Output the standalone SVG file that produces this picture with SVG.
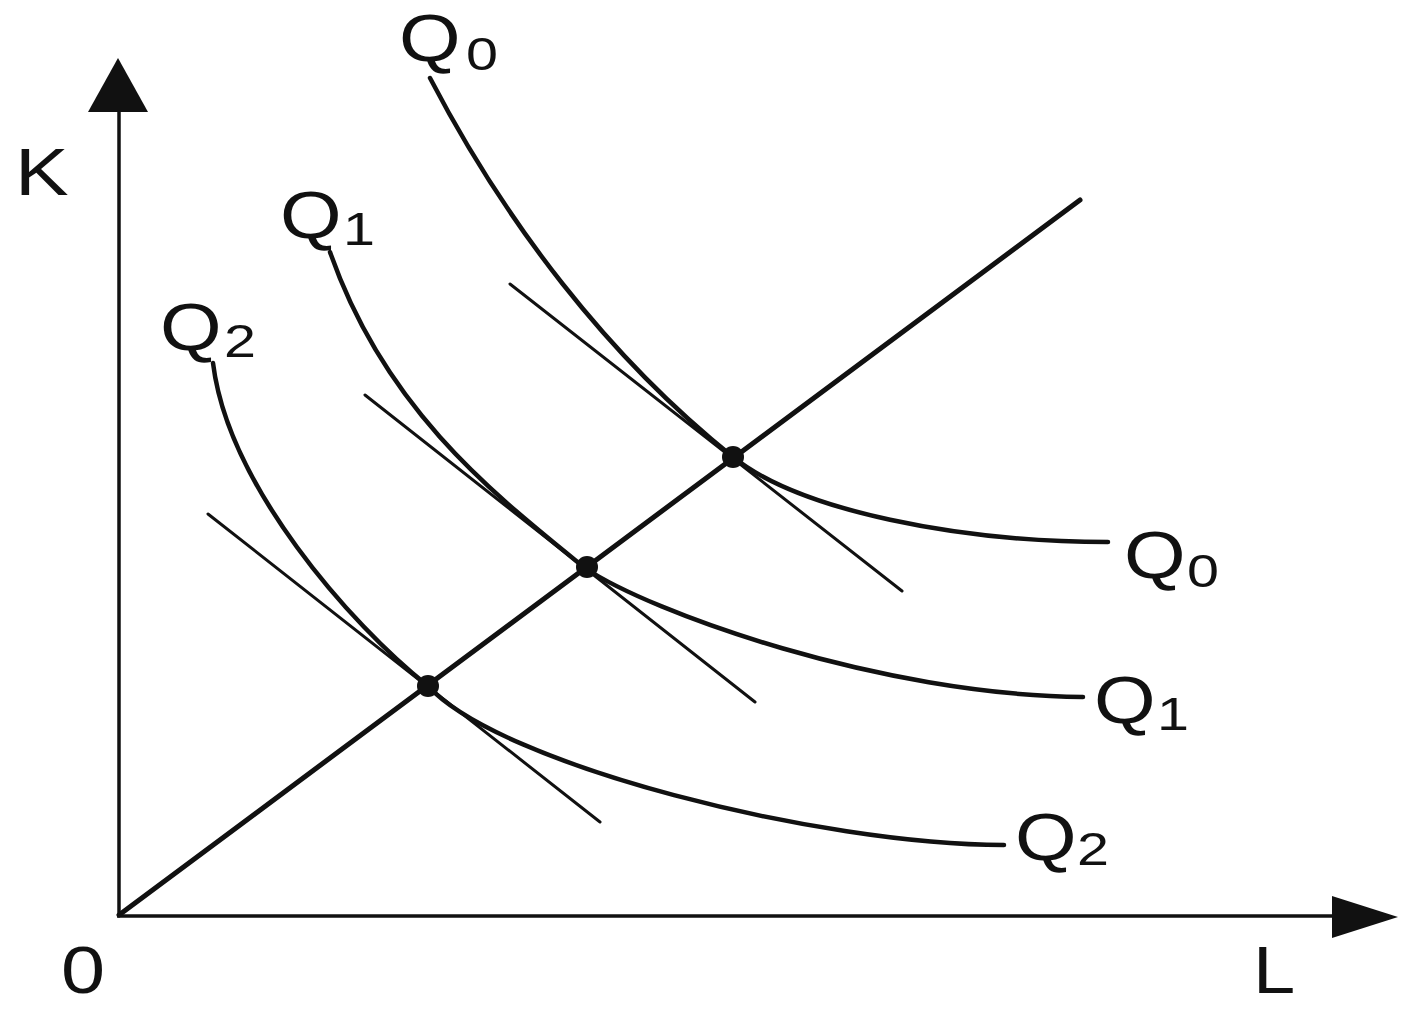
<svg xmlns="http://www.w3.org/2000/svg" width="1402" height="1010" viewBox="0 0 1402 1010">
<style>
.ax{stroke:#111;stroke-width:3.5;fill:none}
.curve{stroke:#111;stroke-width:4.5;fill:none;stroke-linecap:round}
.tan{stroke:#111;stroke-width:3;fill:none;stroke-linecap:round}
.ray{stroke:#111;stroke-width:5;fill:none;stroke-linecap:round}
.dot{fill:#111}
.lbl{font-family:"Liberation Sans",Arial,sans-serif;font-size:66px;fill:#111}
.sub{font-size:46px}
</style>
<rect width="1402" height="1010" fill="#fff"/>
<g id="axes">
<line class="ax" x1="119" y1="916" x2="119" y2="100"/>
<polygon points="118,58 88,112 148,112" fill="#111"/>
<line class="ax" x1="117" y1="916" x2="1345" y2="916"/>
<polygon points="1398,917 1332,896 1332,938" fill="#111"/>
<text class="lbl" transform="translate(15,195) scale(1.22,1)" font-size="62">K</text>
<text class="lbl" transform="translate(61,993) scale(1.2,1)">0</text>
<text class="lbl" transform="translate(1253,993) scale(1.15,1)">L</text>
</g>
<g id="connectors">
<line class="ray" x1="119" y1="915" x2="1080" y2="200"/>
<line class="tan" x1="510" y1="284" x2="902" y2="591"/>
<line class="tan" x1="365" y1="395" x2="755" y2="702"/>
<line class="tan" x1="208" y1="514" x2="600" y2="822"/>
</g>
<g id="Q0">
<path class="curve" d="M430,78 C505,222 608,357 733,457 C800,511 960,542 1108,542"/>
<text class="lbl" transform="translate(399,61) scale(1.2,1)">Q</text>
<text class="lbl sub" transform="translate(466,70) scale(1.25,1)">0</text>
<text class="lbl" transform="translate(1124,578) scale(1.2,1)">Q</text>
<text class="lbl sub" transform="translate(1187,587) scale(1.25,1)">0</text>
</g>
<g id="Q1">
<path class="curve" d="M330,252 C385,410 495,495 585,568 C650,612 880,695 1083,697"/>
<text class="lbl" transform="translate(280,238) scale(1.2,1)">Q</text>
<text class="lbl sub" transform="translate(343,245) scale(1.25,1)">1</text>
<text class="lbl" transform="translate(1094,723) scale(1.2,1)">Q</text>
<text class="lbl sub" transform="translate(1157,730) scale(1.25,1)">1</text>
</g>
<g id="Q2">
<path class="curve" d="M213,363 C228,485 350,624 428,686 C500,765 820,845 1004,845"/>
<text class="lbl" transform="translate(160,350) scale(1.2,1)">Q</text>
<text class="lbl sub" transform="translate(224,357) scale(1.25,1)">2</text>
<text class="lbl" transform="translate(1015,860) scale(1.2,1)">Q</text>
<text class="lbl sub" transform="translate(1077,865) scale(1.25,1)">2</text>
</g>
<g id="points">
<circle class="dot" cx="733" cy="457" r="11"/>
<circle class="dot" cx="587" cy="567" r="11"/>
<circle class="dot" cx="428" cy="686" r="11"/>
</g>
</svg>
